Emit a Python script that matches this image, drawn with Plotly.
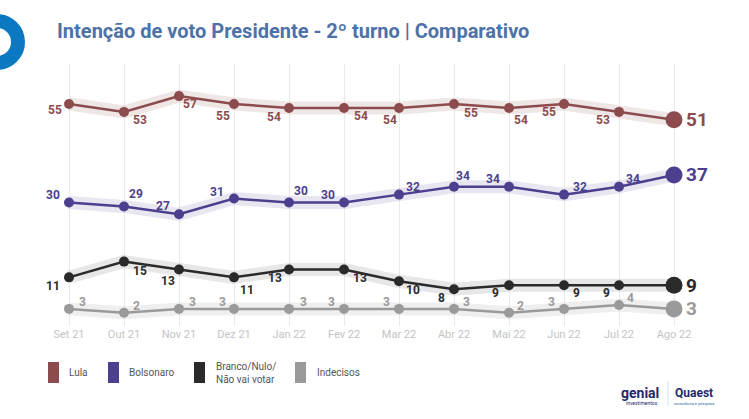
import plotly.graph_objects as go

months = ["Set 21", "Out 21", "Nov 21", "Dez 21", "Jan 22", "Fev 22",
          "Mar 22", "Abr 22", "Mai 22", "Jun 22", "Jul 22", "Ago 22"]
lula = [55, 53, 57, 55, 54, 54, 54, 55, 54, 55, 53, 51]
bolsonaro = [30, 29, 27, 31, 30, 30, 32, 34, 34, 32, 34, 37]
branco = [11, 15, 13, 11, 13, 13, 10, 8, 9, 9, 9, 9]
indecisos = [3, 2, 3, 3, 3, 3, 3, 3, 2, 3, 4, 3]

series_names = ["Lula", "Bolsonaro", "Branco/Nulo/<br>Não vai votar", "Indecisos"]
series_vals = [lula, bolsonaro, branco, indecisos]
line_colors = ["#8c4b4c", "#4b3f8e", "#2a2a2a", "#9a9a9a"]
band_colors = ["rgba(140,75,76,0.14)", "rgba(75,63,142,0.13)", "rgba(40,40,40,0.11)", "rgba(150,150,150,0.15)"]

# label offsets (screen px: dx right, dy down)
offsets = [
    [(-14, 6), (16, 8), (11, 8), (-11, 12), (-15, 9), (17, 8), (-9, 12), (17, 9), (12, 12), (-15, 8), (-16, 8), None],
    [(-16, -8), (12, -12), (-16, -8), (-17, -7), (12, -12), (-16, -8), (14, -8), (9, -11), (-16, -8), (16, -8), (14, -8), None],
    [(-16, 9), (16, 9), (-11, 12), (13, 13), (-14, 9), (16, 9), (14, 9), (-13, 9), (-14, 8), (12, 8), (-13, 8), None],
    [(13, -7), (12, -7), (13, -7), (-12, -7), (14, -7), (-13, -7), (-13, -7), (12, -7), (11, -7), (-13, -7), (11, -7), None],
]

W, H = 749, 419
L, R, T, B = 40, 40, 64, 93
PW, PH = W - L - R, H - T - B

def px(x):
    return (x - L) / PW

def py(y):
    return (H - B - y) / PH

x_idx = list(range(len(months)))
fig = go.Figure()

for vals, lc, bc in zip(series_vals, line_colors, band_colors):
    fig.add_trace(go.Scatter(x=x_idx, y=vals, mode="lines",
                             line=dict(color=bc, width=13), hoverinfo="skip", showlegend=False))
for vals, lc in zip(series_vals, line_colors):
    sizes = [10] * (len(vals) - 1) + [17]
    fig.add_trace(go.Scatter(x=x_idx, y=vals, mode="lines+markers",
                             line=dict(color=lc, width=2.5),
                             marker=dict(color=lc, size=sizes, opacity=1, line=dict(width=0)),
                             showlegend=False))

annotations = []
for vals, lc, offs in zip(series_vals, line_colors, offsets):
    for i, v in enumerate(vals):
        o = offs[i]
        if o is None:
            annotations.append(dict(x=i, y=v, text=str(v), showarrow=False, xanchor="left",
                                    yanchor="middle", xshift=10, yshift=0,
                                    font=dict(family="Roboto", size=19, color=lc, weight="bold")))
        else:
            annotations.append(dict(x=i, y=v, text=str(v), showarrow=False, xanchor="center",
                                    yanchor="middle", xshift=o[0], yshift=-o[1],
                                    font=dict(family="Roboto", size=12, color=lc, weight="bold")))

# title
annotations.append(dict(xref="paper", yref="paper", x=px(55), y=py(31), xanchor="left", yanchor="middle",
                        text="<b>Intenção de voto Presidente - 2º turno | Comparativo</b>", showarrow=False,
                        font=dict(family="Roboto", size=20, color="#4d72a8")))

# legend
shapes = []
leg_x = [48, 108, 194, 295]
leg_text_x = [67, 127, 214, 315]
for name, lc, sx, tx in zip(series_names, line_colors, leg_x, leg_text_x):
    shapes.append(dict(type="rect", xref="paper", yref="paper", x0=px(sx), x1=px(sx + 11),
                       y0=py(383), y1=py(362), fillcolor=lc, line=dict(width=0)))
    annotations.append(dict(xref="paper", yref="paper", x=px(tx), y=py(372.5), xanchor="left", yanchor="middle",
                            text=name, showarrow=False, align="left",
                            font=dict(family="Roboto", size=10, color="#555555")))

# ring logo
shapes.append(dict(type="circle", xref="paper", yref="paper", x0=px(-24), x1=px(18), y0=py(63), y1=py(21),
                   line=dict(color="#0a79c1", width=14), fillcolor="rgba(0,0,0,0)"))

# bottom-right logos
annotations.append(dict(xref="paper", yref="paper", x=px(640), y=py(393), xanchor="center", yanchor="middle",
                        text="<b>genial</b>", showarrow=False,
                        font=dict(family="Roboto", size=14, color="#1f2a6e")))
annotations.append(dict(xref="paper", yref="paper", x=px(642), y=py(403), xanchor="center", yanchor="middle",
                        text="investimentos", showarrow=False,
                        font=dict(family="Roboto", size=5, color="#1f2a6e")))
shapes.append(dict(type="line", xref="paper", yref="paper", x0=px(668), x1=px(668), y0=py(381), y1=py(406),
                   line=dict(color="#cfe3f3", width=1)))
annotations.append(dict(xref="paper", yref="paper", x=px(694), y=py(393), xanchor="center", yanchor="middle",
                        text="<b>Quaest</b>", showarrow=False,
                        font=dict(family="Roboto", size=12, color="#1f2a6e")))
annotations.append(dict(xref="paper", yref="paper", x=px(694), y=py(403), xanchor="center", yanchor="middle",
                        text="consultoria e pesquisa", showarrow=False,
                        font=dict(family="Roboto", size=4, color="#1f6fb0")))

vtop = (320.7 - T) / 3.94
vbot = (320.7 - (H - B)) / 3.94
x0 = (L - 69) / 55
x1 = (W - R - 69) / 55

fig.update_layout(
    width=W, height=H, margin=dict(l=L, r=R, t=T, b=B),
    paper_bgcolor="white", plot_bgcolor="white",
    xaxis=dict(range=[x0, x1], tickmode="array", tickvals=x_idx, ticktext=months,
               showgrid=True, gridcolor="#e9e9e9", gridwidth=1, zeroline=False, showline=False,
               tickfont=dict(family="Roboto", size=11, color="#c4c4c4"), ticks=""),
    yaxis=dict(range=[vbot, vtop], visible=False, showgrid=False, zeroline=False),
    annotations=annotations, shapes=shapes, showlegend=False,
)

fig.write_html("out.html")
